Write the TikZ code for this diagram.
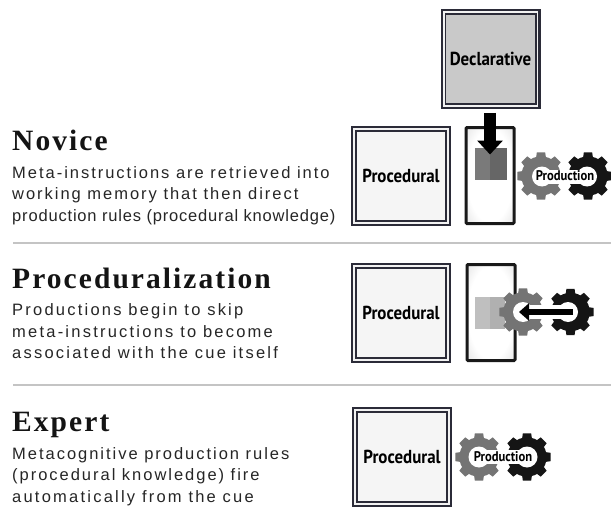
\documentclass[tikz,border=0pt]{standalone}
\usepackage{fontspec}
\setmainfont{Liberation Sans}
\newfontfamily\headfont[LetterSpace=7]{Liberation Serif}
\newfontfamily\bodyfont[LetterSpace=12]{Liberation Sans}
\newfontfamily\bodywide[LetterSpace=13.5]{Liberation Sans}
\newfontfamily\bodytight[LetterSpace=5]{Liberation Sans}
\newfontfamily\boxfont[FakeStretch=0.9]{PT Sans}
\usetikzlibrary{arrows.meta}
\definecolor{frame}{HTML}{2B2B38}
\definecolor{gearA}{HTML}{747474}
\definecolor{gearB}{HTML}{151515}
\definecolor{ruleg}{HTML}{C4C4C4}
\pgfdeclareradialshading{wmshade}{\pgfpoint{0bp}{0bp}}{color(0bp)=(white);color(24bp)=(white);color(50bp)=(black!22)}
\tikzset{
  x=1pt,y=-1pt,
  headtxt/.style={anchor=base west,inner sep=0,font=\headfont\bfseries\fontsize{29.5}{32}\selectfont,text=black!92},
  bodytxt/.style={anchor=base west,inner sep=0,font=\bodyfont\fontsize{16.5}{19}\selectfont,text=black!85},
  widetxt/.style={anchor=base west,inner sep=0,font=\bodywide\fontsize{16.5}{19}\selectfont,text=black!85},
  tighttxt/.style={anchor=base west,inner sep=0,font=\bodytight\fontsize{16.5}{19}\selectfont,text=black!85},
  memtxt/.style={inner sep=0,font=\boxfont\bfseries\fontsize{18.8}{20}\selectfont,text=black},
  prodtxt/.style={inner sep=0,font=\boxfont\bfseries\fontsize{14}{15}\selectfont,text=black},
  outerbox/.style={draw=frame,line width=2.2pt,minimum width=97.8pt,minimum height=97.8pt,inner sep=0},
  innerbox/.style={draw=frame,line width=1.6pt,minimum width=90.4pt,minimum height=90.4pt,inner sep=0},
  divider/.style={draw=ruleg,line width=2pt},
  wmbox/.style={draw=black!90,line width=3pt,rounded corners=1pt,minimum width=48pt,minimum height=96pt,inner sep=0,shading=wmshade},
  blockarrow/.style={-{Triangle[length=14pt,width=25pt]},line width=12pt,black},
  thinarrow/.style={-{Triangle[length=10pt,width=17pt]},line width=6.5pt,black},
}
\newcommand{\gearshape}[4]{%
  % centre x, centre y, radius, colour
  \fill[#4] (#1,#2) circle ({0.82*#3});
  \foreach \a in {0,45,...,315}{
    \fill[#4] ({#1+0.76*#3*cos(\a-16)},{#2+0.76*#3*sin(\a-16)})
      -- ({#1+#3*cos(\a-10)},{#2+#3*sin(\a-10)})
      -- ({#1+#3*cos(\a+10)},{#2+#3*sin(\a+10)})
      -- ({#1+0.76*#3*cos(\a+16)},{#2+0.76*#3*sin(\a+16)}) -- cycle;
  }
}
\newcommand{\gearhole}[4]{%
  % left centre, right centre, y, radius
  \fill[white] (#1,#3) circle (#4);
  \fill[white] (#2,#3) circle (#4);
  \fill[white] (#1,#3-7) rectangle (#2,#3+7);
}
\newcommand{\memory}[5]{%
  \node[outerbox,fill=black!5] (#1) at (#2,#3) {};
  \node[innerbox,fill=#5] (#1in) at (#2,#3) {};
  \node[memtxt] (#1txt) at (#2,#3) {#4};
}
\begin{document}
\begin{tikzpicture}
\useasboundingbox (0,0) rectangle (611,519);
\fill[white] (0,0) rectangle (611,519);

% left text
\node[headtxt] (h1) at (12,150) {Novice};
\node[bodytxt] (b1a) at (12,178) {Meta-instructions are retrieved into};
\node[bodytxt] (b1b) at (12,199) {working memory that then direct};
\node[tighttxt] (b1c) at (12,221) {production rules (procedural knowledge)};
\coordinate (r1a) at (13,243); \coordinate (r1b) at (611,243);
\draw[divider] (r1a) -- (r1b);
\node[headtxt] (h2) at (12,288) {Proceduralization};
\node[widetxt] (b2a) at (12,315) {Productions begin to skip};
\node[widetxt] (b2b) at (12,337) {meta-instructions to become};
\node[widetxt] (b2c) at (12,358) {associated with the cue itself};
\coordinate (r2a) at (13,385); \coordinate (r2b) at (611,385);
\draw[divider] (r2a) -- (r2b);
\node[headtxt] (h3) at (12,431) {Expert};
\node[bodytxt] (b3a) at (12,459) {Metacognitive production rules};
\node[bodytxt] (b3b) at (12,480) {(procedural knowledge) fire};
\node[widetxt] (b3c) at (12,502) {automatically from the cue};

% memory boxes
\memory{decl}{490.5}{59}{Declarative}{black!21}
\memory{proc1}{401}{176}{Procedural}{black!4}
\memory{proc2}{401}{313}{Procedural}{black!4}
\memory{proc3}{402}{457}{Procedural}{black!4}

% novice
\node[wmbox] (wm1) at (490,175.5) {};
\fill[black!52] (475,148) rectangle (491,180);
\fill[black!60] (490,148) rectangle (507,180);
\coordinate (a1s) at (490,113); \coordinate (a1e) at (490,154.5);
\draw[blockarrow] (a1s) -- (a1e);
\gearshape{541}{176}{24}{gearA}
\gearshape{588}{176}{24}{gearB}
\gearhole{542}{587}{176.5}{10}
\node[prodtxt] (pr1) at (565,176) {Production};

% proceduralization
\node[wmbox] (wm2) at (491,312.5) {};
\fill[black!25] (475,297) rectangle (491,329);
\fill[black!31] (490,297) rectangle (505,329);
\gearshape{523}{312}{24}{gearA}
\gearshape{570.5}{312}{23.5}{gearB}
\gearhole{523}{568}{312}{10}
\coordinate (a2s) at (573,312); \coordinate (a2e) at (519,312);
\draw[thinarrow] (a2s) -- (a2e);

% expert
\gearshape{479}{457}{24}{gearA}
\gearshape{527}{457}{24}{gearB}
\gearhole{479}{527}{457}{10.5}
\node[prodtxt] (pr3) at (503,457) {Production};
\end{tikzpicture}
\end{document}
